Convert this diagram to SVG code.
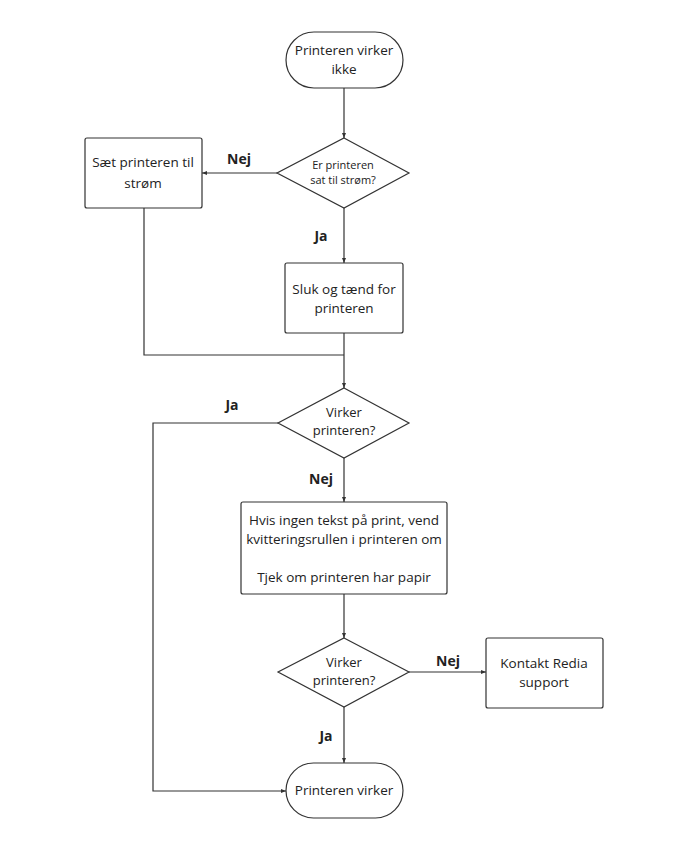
<svg xmlns="http://www.w3.org/2000/svg" width="688" height="850" viewBox="0 0 688 850">
<style>
.shape{fill:#fff;stroke:#333;stroke-width:1.2}
.t{font-family:"Open Sans","Noto Sans",sans-serif;font-size:13.5px;fill:#222;text-anchor:middle;dominant-baseline:middle}
.s{font-size:11px}
.m{font-size:13px}
.lbl{font-family:"Open Sans","Noto Sans",sans-serif;font-size:14px;font-weight:bold;fill:#222;text-anchor:middle;dominant-baseline:middle}
.c{fill:none;stroke:#333;stroke-width:1.2}
</style>
<defs>
<marker id="arr" viewBox="0 0 10 10" refX="10" refY="5" markerWidth="4.5" markerHeight="4.5" orient="auto">
<path d="M0,1 L10,5 L0,9 z" fill="#333"/>
</marker>
</defs>
<rect width="688" height="850" fill="#fff"/>
<g id="connectors">
<path class="c" d="M344,88 V138" marker-end="url(#arr)"/>
<path class="c" d="M277,173 H202" marker-end="url(#arr)"/>
<path class="c" d="M344,208 V263" marker-end="url(#arr)"/>
<path class="c" d="M144,208 V355 H344"/>
<path class="c" d="M344,333 V388" marker-end="url(#arr)"/>
<path class="c" d="M278,423 H153 V791 H286" marker-end="url(#arr)"/>
<path class="c" d="M344,458 V502" marker-end="url(#arr)"/>
<path class="c" d="M344,594 V638" marker-end="url(#arr)"/>
<path class="c" d="M409,672 H486" marker-end="url(#arr)"/>
<path class="c" d="M344,707 V763" marker-end="url(#arr)"/>
<text class="lbl" x="239" y="160">Nej</text>
<text class="lbl" x="321" y="237">Ja</text>
<text class="lbl" x="232" y="406">Ja</text>
<text class="lbl" x="321" y="480">Nej</text>
<text class="lbl" x="448" y="662">Nej</text>
<text class="lbl" x="326" y="737">Ja</text>
</g>
<g id="start">
<rect class="shape" x="286" y="32" width="117" height="56" rx="28"/>
<text class="t" x="344" y="51">Printeren virker</text>
<text class="t" x="344" y="70">ikke</text>
</g>
<g id="d1">
<polygon class="shape" points="344,138 409,173 344,208 277,173"/>
<text class="t s" x="343" y="166">Er printeren</text>
<text class="t s" x="343" y="181">sat til strøm?</text>
</g>
<g id="saet">
<rect class="shape" x="85" y="138" width="117" height="70" rx="2"/>
<text class="t" x="143" y="163">Sæt printeren til</text>
<text class="t" x="143" y="184">strøm</text>
</g>
<g id="sluk">
<rect class="shape" x="285" y="263" width="118" height="70" rx="2"/>
<text class="t" x="344" y="290">Sluk og tænd for</text>
<text class="t" x="344" y="309">printeren</text>
</g>
<g id="d2">
<polygon class="shape" points="344,388 409,423 344,458 278,423"/>
<text class="t m" x="344" y="414">Virker</text>
<text class="t m" x="344" y="432">printeren?</text>
</g>
<g id="hvis">
<rect class="shape" x="241" y="502" width="206" height="92" rx="2"/>
<text class="t" x="344" y="521">Hvis ingen tekst på print, vend</text>
<text class="t" x="344" y="540">kvitteringsrullen i printeren om</text>
<text class="t" x="344" y="578">Tjek om printeren har papir</text>
</g>
<g id="d3">
<polygon class="shape" points="344,638 409,672 344,707 278,672"/>
<text class="t m" x="344" y="664">Virker</text>
<text class="t m" x="344" y="682">printeren?</text>
</g>
<g id="kontakt">
<rect class="shape" x="486" y="638" width="117" height="70" rx="2"/>
<text class="t" x="544" y="664">Kontakt Redia</text>
<text class="t" x="544" y="683">support</text>
</g>
<g id="end">
<rect class="shape" x="286" y="763" width="117" height="55" rx="27.5"/>
<text class="t" x="344" y="791">Printeren virker</text>
</g>
</svg>
